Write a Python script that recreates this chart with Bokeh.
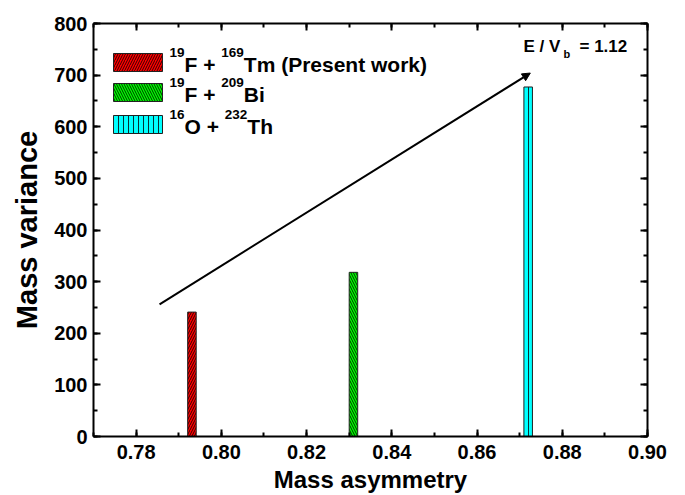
from bokeh.plotting import figure
from bokeh.models import (Range1d, SingleIntervalTicker, LinearAxis, Arrow, NormalHead, Label,
                          BoxAnnotation, CustomJSTickFormatter, ColumnDataSource)
from bokeh.embed import file_html
from bokeh.resources import INLINE

# ---- data ----
sys_sup1 = ["19", "19", "16"]
sys_proj = ["F + ", "F + ", "O + "]
sys_sup2 = ["169", "209", "232"]
sys_targ = ["Tm (Present work)", "Bi", "Th"]
mass_asymmetry = [0.7931, 0.8310, 0.8720]
mass_variance = [241, 318, 677]
bar_colors = ["#FF0000", "#00FF00", "#00FFFF"]
hatches = ["right_diagonal_line", "left_diagonal_line", "vertical_line"]
arrow_x = [0.7855, 0.8725]
arrow_y = [256, 704]
x_range = (0.77, 0.90)
y_range = (0, 800)

FONT = "Liberation Sans"
W, H = 685, 495
FL, FR, FT, FB = 93, 647, 23, 436  # frame edges in pixels
BSHIFT = 7  # baseline correction for Label text


def px_x(px):
    return x_range[0] + (px - FL) / (FR - FL) * (x_range[1] - x_range[0])


def px_y(py):
    return y_range[0] + (FB - py) / (FB - FT) * (y_range[1] - y_range[0])


p = figure(width=W, height=H, output_backend="svg", toolbar_location=None,
           x_range=Range1d(*x_range), y_range=Range1d(*y_range),
           min_border_left=FL, min_border_right=W - FR, min_border_top=FT, min_border_bottom=H - FB)
p.xgrid.visible = False
p.ygrid.visible = False
p.outline_line_color = None
p.background_fill_color = "white"
p.border_fill_color = "white"

p.xaxis.ticker = SingleIntervalTicker(interval=0.02, num_minor_ticks=2)
p.yaxis.ticker = SingleIntervalTicker(interval=100, num_minor_ticks=2)
p.xaxis.formatter = CustomJSTickFormatter(code="return tick.toFixed(2);")


def style_axis(ax):
    ax.axis_line_width = 2
    ax.axis_line_color = "black"
    ax.major_tick_in = 7
    ax.major_tick_out = 0
    ax.minor_tick_in = 4
    ax.minor_tick_out = 0
    ax.major_tick_line_width = 2
    ax.minor_tick_line_width = 2
    ax.major_tick_line_color = "black"
    ax.minor_tick_line_color = "black"
    ax.major_label_text_font = FONT
    ax.major_label_text_font_style = "bold"
    ax.major_label_text_font_size = "20px"
    ax.major_label_text_color = "black"
    ax.axis_label_text_font = FONT
    ax.axis_label_text_font_style = "bold"
    ax.axis_label_text_color = "black"


for ax in (p.xaxis[0], p.yaxis[0]):
    style_axis(ax)
p.xaxis.axis_label = "Mass asymmetry"
p.yaxis.axis_label = "Mass variance"
p.xaxis.axis_label_text_font_size = "24px"
p.yaxis.axis_label_text_font_size = "29px"
p.xaxis.major_label_standoff = 8
p.xaxis.axis_label_standoff = 4
p.yaxis.major_label_standoff = 6
p.yaxis.axis_label_standoff = 8

empty = CustomJSTickFormatter(code="return '';")
top_ax = LinearAxis(ticker=SingleIntervalTicker(interval=0.02, num_minor_ticks=2), formatter=empty)
right_ax = LinearAxis(ticker=SingleIntervalTicker(interval=100, num_minor_ticks=2), formatter=empty)
for ax in (top_ax, right_ax):
    style_axis(ax)
    ax.major_label_standoff = 0
p.add_layout(top_ax, "above")
p.add_layout(right_ax, "right")

# bars
for i in range(3):
    src = ColumnDataSource(dict(x=[mass_asymmetry[i]], top=[mass_variance[i]]))
    p.vbar(x="x", top="top", bottom=0, width=0.002, source=src,
           fill_color=bar_colors[i], line_color="#222222", line_width=1,
           hatch_pattern=hatches[i], hatch_color="black", hatch_scale=5, hatch_weight=0.8)

# legend (drawn by hand to keep real superscripts)
lab_kw = dict(text_font=FONT, text_font_style="bold", text_color="black", text_baseline="alphabetic")
MAIN, SUP = 21, 13.5
em = {"F + ": 1.751, "O + ": 1.918}
row_top = [53, 83, 115]
for i in range(3):
    t = row_top[i]
    p.add_layout(BoxAnnotation(left=px_x(113), right=px_x(162), top=px_y(t), bottom=px_y(t + 18),
                               fill_color=bar_colors[i], fill_alpha=1, line_color="#222222",
                               line_width=1, line_alpha=1,
                               hatch_pattern=hatches[i], hatch_color="black", hatch_scale=5,
                               hatch_weight=0.8, hatch_alpha=1))
    base = t + 18 - BSHIFT
    x0 = 169
    p.add_layout(Label(x=px_x(x0), y=px_y(base - 12), text=sys_sup1[i],
                       text_font_size=f"{SUP}px", **lab_kw))
    x1 = x0 + 2 * 0.556 * SUP
    p.add_layout(Label(x=px_x(x1), y=px_y(base), text=sys_proj[i],
                       text_font_size=f"{MAIN}px", **lab_kw))
    x2 = x1 + em[sys_proj[i]] * MAIN
    p.add_layout(Label(x=px_x(x2), y=px_y(base - 12), text=sys_sup2[i],
                       text_font_size=f"{SUP}px", **lab_kw))
    x3 = x2 + 3 * 0.556 * SUP
    p.add_layout(Label(x=px_x(x3), y=px_y(base), text=sys_targ[i],
                       text_font_size=f"{MAIN}px", **lab_kw))

p.add_layout(Arrow(end=NormalHead(size=8, fill_color="black", line_color="black", line_width=1),
                   x_start=arrow_x[0], y_start=arrow_y[0], x_end=arrow_x[1], y_end=arrow_y[1],
                   line_width=2, line_color="black"))

p.add_layout(Label(x=px_x(523), y=px_y(53 - BSHIFT), text="E / V", text_font_size="17px", **lab_kw))
p.add_layout(Label(x=px_x(563), y=px_y(60 - BSHIFT), text="b", text_font_size="11px", **lab_kw))
p.add_layout(Label(x=px_x(579), y=px_y(53 - BSHIFT), text="= 1.12", text_font_size="17px", **lab_kw))

open("out.html", "w").write(file_html(p, INLINE))
